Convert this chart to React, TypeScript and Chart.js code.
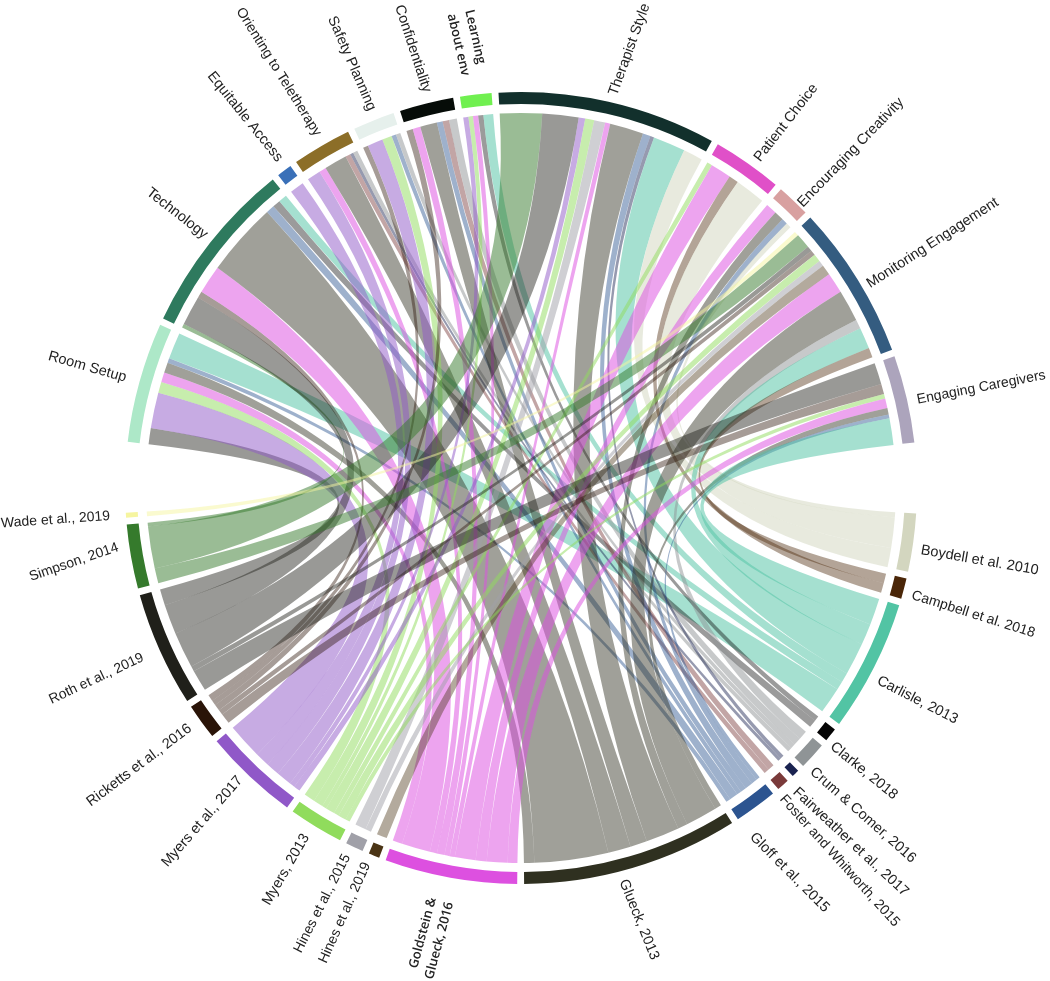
import React, { useEffect, useRef } from "react";
import { Chart, registerables } from "chart.js";

Chart.register(...registerables);

const studies = [
  "Wade et al., 2019", "Simpson, 2014", "Roth et al., 2019", "Ricketts et al., 2016",
  "Myers et al., 2017", "Myers, 2013", "Hines et al., 2015", "Hines et al., 2019",
  "Goldstein & Glueck, 2016", "Glueck, 2013", "Gloff et al., 2015", "Foster and Whitworth, 2015",
  "Fairweather et al., 2017", "Crum & Comer, 2016", "Clarke, 2018", "Carlisle, 2013",
  "Campbell et al. 2018", "Boydell et al. 2010",
];
const themes = [
  "Room Setup", "Technology", "Equitable Access", "Orienting to Teletherapy", "Safety Planning",
  "Confidentiality", "Learning about env", "Therapist Style", "Patient Choice",
  "Encouraging Creativity", "Monitoring Engagement", "Engaging Caregivers",
];

// weights per study, in the order of `studies`
const roomSetup =     [0, 0, 2.5, 0, 5.5, 1.7, 0, 0, 1.5, 1.6, 0.7, 0, 0, 0, 0, 4.1, 0, 0];
const technology =    [0, 0.6, 4.6, 1.0, 0, 0, 0, 0, 4.4, 11.4, 1.3, 0, 0, 0, 1.2, 1.3, 0, 0];
const equitable =     [0, 0, 0, 0, 2.2, 0, 0, 0, 0, 0, 0, 0, 0, 0, 0, 0, 0, 0];
const orienting =     [0, 0, 0, 0, 2.1, 0, 0, 0, 1.1, 3.5, 0, 0.8, 0.5, 0.7, 0, 0, 0, 0];
const safety =        [0, 0, 0, 0.8, 2.4, 1.5, 0, 0, 0, 0, 0.7, 0, 0, 0.7, 0, 0, 0, 0];
const confidential =  [0, 0, 0, 1.0, 0, 0, 0, 0, 1.2, 2.6, 0.9, 1.0, 0, 1.2, 0, 0, 0, 0];
const learning =      [0, 0, 0, 0, 0.8, 0.7, 0, 0, 0.8, 0, 0, 0, 0, 0, 0.8, 1.5, 0, 0];
const therapistStyle = [0, 6.5, 5.6, 0, 1.0, 1.4, 1.7, 0, 0.8, 5.2, 1.2, 0, 0.6, 0, 0, 5.0, 0, 3.0];
const patientChoice = [0, 0, 0, 0, 0, 0.8, 0, 0, 3.2, 0, 0, 0, 0, 0, 0, 0, 1.5, 4.7];
const creativity =    [0, 0, 0, 0, 0, 0, 0, 0, 1.7, 1.5, 0.9, 0, 0, 0, 0, 0, 0, 0.8];
const monitoring =    [0.7, 2.3, 0.8, 0.8, 0, 1.2, 0.9, 1.6, 3.2, 4.9, 0, 0, 0, 1.4, 0, 3.3, 1.5, 0];
const caregivers =    [0, 0, 3.3, 1.6, 0, 0.7, 0, 0, 1.5, 1.0, 0.6, 0, 0, 0, 0, 4.1, 0, 0];
const flows = [roomSetup, technology, equitable, orienting, safety, confidential, learning, therapistStyle, patientChoice, creativity, monitoring, caregivers];

// styles
const studyColors = [
  "#f6f5a0", "#357a2c", "#20201a", "#2a1408", "#9058c8", "#90dc5c", "#a0a0a8", "#4a3415", "#dd50e0",
  "#2f3020", "#2c5490", "#7a3a3a", "#1a2350", "#8f9496", "#050505", "#52c4a4", "#4a2608", "#d3d6bf",
];
const studyAlpha = [0.5, 0.5, 0.46, 0.42, 0.5, 0.5, 0.5, 0.42, 0.52, 0.46, 0.46, 0.46, 0.46, 0.5, 0.4, 0.52, 0.42, 0.52];
const themeColors = [
  "#ade8c8", "#2e7a5e", "#3a70b8", "#8c6e28", "#e6f0ec", "#060c08", "#70f050", "#12302c", "#e050c8",
  "#d8a0a0", "#345c80", "#aca4bc",
];
const smallGap = 1;
const bigGap = 10.3;
const ringOuter = 396;
const ringInner = 384;
const chordRadius = 375;

// label placement: text (lines), x / y offset from the circle's centre, rotation, alignment
type Lbl = [string[], number, number, number, CanvasTextAlign, string?];
const plainFont = '14.5px "Liberation Sans"';
const smallFont = '14px "Liberation Sans"';
const softFont = '600 13px "Open Sans"';
const labels: Lbl[] = [
  [["Therapist Style"], 92, -393, -70, "left"],
  [["Patient Choice"], 236, -328, -52, "left"],
  [["Encouraging Creativity"], 279, -283, -46, "left"],
  [["Monitoring Engagement"], 347, -203, -33, "left"],
  [["Engaging Caregivers"], 396, -88, -11, "left", smallFont],
  [["Boydell et al. 2010"], 400, 62, 10, "left"],
  [["Campbell et al. 2018"], 391, 107, 17.5, "left", smallFont],
  [["Carlisle, 2013"], 357, 192, 27, "left"],
  [["Clarke, 2018"], 311, 257, 39, "left"],
  [["Crum & Comer, 2016"], 291, 282, 41.5, "left"],
  [["Fairweather et al., 2017"], 274, 302, 43, "left"],
  [["Foster and Whitworth, 2015"], 261, 309, 48, "left", smallFont],
  [["Gloff et al., 2015"], 231, 347, 45, "left"],
  [["Glueck, 2013"], 102, 392, 68, "left"],
  [["Goldstein &", "Glueck, 2016"], -80, 412, -75, "right", softFont],
  [["Hines et al., 2019"], -154, 375, -66, "right", smallFont],
  [["Hines et al., 2015"], -174, 367, -63, "right", smallFont],
  [["Myers, 2013"], -215, 347, -60, "right"],
  [["Myers et al., 2017"], -281, 290, -49, "right"],
  [["Ricketts et al., 2016"], -331, 239, -37, "right"],
  [["Roth et al., 2019"], -378, 169, -25, "right", smallFont],
  [["Simpson, 2014"], -403, 59, -19, "right", smallFont],
  [["Wade et al., 2019"], -411, 28, -4, "right", smallFont],
  [["Room Setup"], -395, -110, 16, "right"],
  [["Technology"], -315, -252, 38, "right"],
  [["Equitable Access"], -241, -328, 51, "right"],
  [["Orienting to Teletherapy"], -203, -353, 58, "right", smallFont],
  [["Safety Planning"], -149, -378, 66.5, "right"],
  [["Confidentiality"], -94, -396, 72, "right"],
  [["Learning", "about env"], -61, -476, 77, "left", softFont],
];

const sum = (a: number[]) => a.reduce((s, v) => s + v, 0);

export default function App() {
  const ref = useRef<HTMLCanvasElement>(null);
  useEffect(() => {
    const canvas = ref.current!;
    const studyTotals = studies.map((_, c) => sum(flows.map((r) => r[c])));
    const themeTotals = flows.map(sum);
    const total = sum(themeTotals) * 2;
    const gapCount = studies.length - 1 + themes.length - 1;
    const unit = (360 - gapCount * smallGap - 2 * bigGap) / total; // degrees per weight unit
    const toValue = (deg: number) => deg / unit;

    // clockwise ring: studies from Boydell down to Wade, big gap, themes, big gap
    const ringValues: number[] = [];
    const ringColors: string[] = [];
    const ringNames: string[] = [];
    const arcIndex: Record<string, number> = {};
    const pushSector = (name: string, v: number, color: string, gap: number) => {
      arcIndex[name] = ringValues.length;
      ringValues.push(v);
      ringColors.push(color);
      ringNames.push(name);
      ringValues.push(toValue(gap));
      ringColors.push("rgba(0,0,0,0)");
      ringNames.push("");
    };
    for (let c = studies.length - 1; c >= 0; c--) {
      pushSector(studies[c], studyTotals[c], studyColors[c], c === 0 ? bigGap : smallGap);
    }
    themes.forEach((t, i) => pushSector(t, themeTotals[i], themeColors[i], i === themes.length - 1 ? bigGap : smallGap));

    const chordPlugin = {
      id: "chords",
      beforeDatasetsDraw(chart: any) {
        const arcs = chart.getDatasetMeta(0).data;
        const ctx: CanvasRenderingContext2D = chart.ctx;
        const cx = arcs[0].x;
        const cy = arcs[0].y;
        const perValue = (a: any, v: number) => ((a.endAngle - a.startAngle) * v) / ringValues[arcs.indexOf(a)];
        // cursors: position inside each arc, advanced clockwise
        const themeCursor = themes.map((t) => arcs[arcIndex[t]].startAngle);
        const studySpans: Record<string, [number, number]> = {};
        studies.forEach((s, c) => {
          let pos = arcs[arcIndex[s]].startAngle;
          for (let t = themes.length - 1; t >= 0; t--) {
            const w = flows[t][c];
            if (!w) continue;
            const d = perValue(arcs[arcIndex[s]], w);
            studySpans[s + "|" + t] = [pos, pos + d];
            pos += d;
          }
        });
        ctx.save();
        flows.forEach((row, t) => {
          studies.forEach((s, c) => {
            const w = row[c];
            if (!w) return;
            const ta = arcs[arcIndex[themes[t]]];
            const t0 = themeCursor[t];
            const t1 = t0 + perValue(ta, w);
            themeCursor[t] = t1;
            const [s0, s1] = studySpans[s + "|" + t];
            ctx.beginPath();
            ctx.moveTo(cx + chordRadius * Math.cos(s0), cy + chordRadius * Math.sin(s0));
            ctx.arc(cx, cy, chordRadius, s0, s1);
            ctx.quadraticCurveTo(cx, cy, cx + chordRadius * Math.cos(t0), cy + chordRadius * Math.sin(t0));
            ctx.arc(cx, cy, chordRadius, t0, t1);
            ctx.quadraticCurveTo(cx, cy, cx + chordRadius * Math.cos(s0), cy + chordRadius * Math.sin(s0));
            ctx.closePath();
            ctx.globalAlpha = studyAlpha[c];
            ctx.fillStyle = studyColors[c];
            ctx.fill();
          });
        });
        ctx.restore();
      },
      afterDatasetsDraw(chart: any) {
        const arcs = chart.getDatasetMeta(0).data;
        const ctx: CanvasRenderingContext2D = chart.ctx;
        const cx = arcs[0].x;
        const cy = arcs[0].y;
        ctx.save();
        ctx.fillStyle = "#222222";
        ctx.textBaseline = "middle";
        labels.forEach(([lines, dx, dy, rot, align, font]) => {
          ctx.save();
          ctx.translate(cx + dx, cy + dy);
          ctx.rotate((rot * Math.PI) / 180);
          ctx.textAlign = align;
          ctx.font = font || plainFont;
          const lh = 18;
          lines.forEach((ln, i) => {
            ctx.fillText(ln, 0, (i - (lines.length - 1) / 2) * lh);
          });
          ctx.restore();
        });
        ctx.restore();
      },
    };

    const chart = new Chart(canvas, {
      type: "doughnut",
      data: {
        labels: ringNames,
        datasets: [{ data: ringValues, backgroundColor: ringColors, borderWidth: 0 }],
      },
      options: {
        responsive: false,
        animation: false,
        rotation: 93.7,
        radius: ringOuter,
        cutout: (ringInner / ringOuter) * 100 + "%",
        layout: { padding: { left: 0, right: 8, top: 0, bottom: 5 } },
        plugins: { legend: { display: false }, tooltip: { enabled: false } },
      } as any,
      plugins: [chordPlugin],
    });
    return () => chart.destroy();
  }, []);
  return (
    <canvas
      ref={ref}
      width={1050}
      height={981}
      style={{ position: "absolute", left: 0, top: 0, display: "block", background: "#fff" }}
    />
  );
}
